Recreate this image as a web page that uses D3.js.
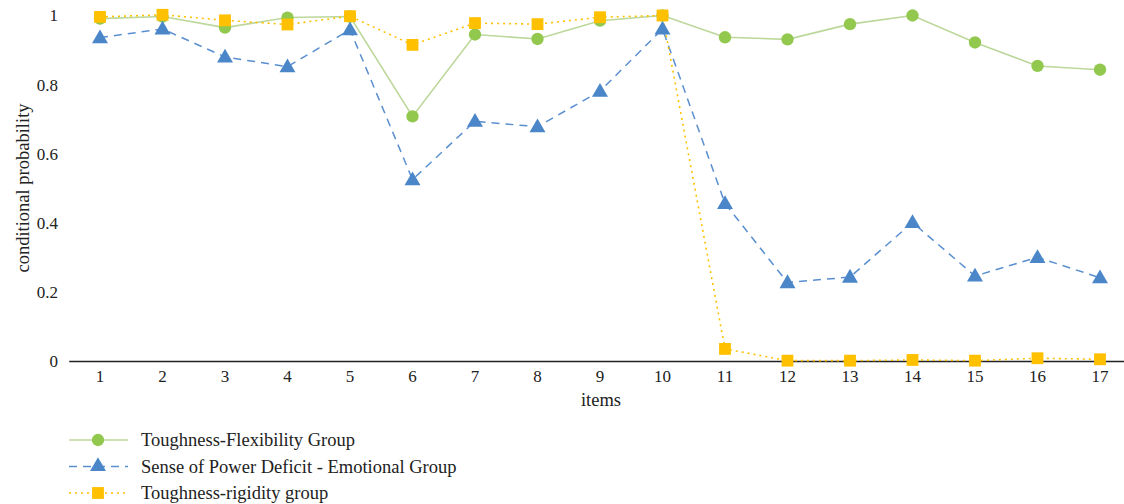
<!DOCTYPE html>
<html><head><meta charset="utf-8">
<script src="https://cdn.jsdelivr.net/npm/d3@7"></script>
<style>body{margin:0;background:#fff}svg{display:block}</style>
</head><body><svg id="c" width="1124" height="504" font-family="Liberation Serif"></svg>
<script>
const items = ["1","2","3","4","5","6","7","8","9","10","11","12","13","14","15","16","17"];
const flexibility = [0.991,0.997,0.965,0.994,0.997,0.708,0.945,0.932,0.985,1.0,0.937,0.931,0.975,1.0,0.922,0.854,0.843];
const powerDeficit = [0.936,0.961,0.880,0.852,0.959,0.525,0.694,0.678,0.781,0.961,0.456,0.227,0.243,0.401,0.246,0.300,0.241];
const rigidity = [0.996,1.002,0.986,0.974,0.998,0.915,0.978,0.975,0.995,1.0,0.035,0.001,0.001,0.003,0.001,0.008,0.005];
const yTicks = [0,0.2,0.4,0.6,0.8,1];
const seriesNames = ["Toughness-Flexibility Group","Sense of Power Deficit - Emotional Group","Toughness-rigidity group"];

const FONT = "Liberation Serif";
const svg = d3.select("#c");
const x = d3.scaleBand().domain(items).range([68.75,1131.25]);
const y = d3.scaleLinear().domain([0,1]).range([361,15.5]);
const cx = d => x(d) + x.bandwidth()/2;

const series = [
  {name:seriesNames[0], values:flexibility, line:"#bcd79a", lw:1.6, dash:null, marker:"circle", fill:"#92c84e"},
  {name:seriesNames[1], values:powerDeficit, line:"#5a8fcf", lw:1.5, dash:"8,6", marker:"triangle", fill:"#4a86c8"},
  {name:seriesNames[2], values:rigidity, line:"#ffc000", lw:1.6, dash:"2,4", marker:"square", fill:"#ffc000"}
];
const sym = {circle:d3.symbolCircle, triangle:d3.symbolTriangle, square:d3.symbolSquare};
const symSize = {circle:120, triangle:110, square:140};

// y axis labels
const yAxis = d3.axisLeft(y).tickValues(yTicks).tickFormat(d=>d===0?"0":d===1?"1":d3.format(".1f")(d)).tickSize(0).tickPadding(0);
const ga = svg.append("g").attr("transform","translate(58,0)").call(yAxis)
  .attr("font-family",FONT).attr("font-size",17);
ga.select(".domain").remove();
ga.selectAll("text").attr("fill","#222");

// x axis
const xAxis = d3.axisBottom(x).tickSize(0).tickPadding(9);
const gx = svg.append("g").attr("transform","translate(0,361)").call(xAxis)
  .attr("font-family",FONT).attr("font-size",17);
gx.select(".domain").attr("stroke","#222").attr("stroke-width",1.5);
gx.selectAll("text").attr("fill","#222");

svg.append("text").attr("x",601).attr("y",406).attr("text-anchor","middle")
  .attr("font-family",FONT).attr("font-size",18.5).attr("fill","#222").text("items");
svg.append("text").attr("transform","translate(29,188) rotate(-90)").attr("text-anchor","middle")
  .attr("font-family",FONT).attr("font-size",18.5).attr("fill","#222").text("conditional probability");

series.forEach(s=>{
  const line = d3.line().x((d,i)=>cx(items[i])).y(d=>y(d));
  svg.append("path").datum(s.values).attr("d",line).attr("fill","none")
    .attr("stroke",s.line).attr("stroke-width",s.lw).attr("stroke-dasharray",s.dash);
});
series.forEach(s=>{
  svg.append("g").selectAll("path").data(s.values).join("path")
    .attr("d",d3.symbol().type(sym[s.marker]).size(symSize[s.marker]))
    .attr("transform",(d,i)=>`translate(${cx(items[i])},${y(d) + (s.marker==="triangle"?1:0)})`)
    .attr("fill",s.fill);
});

// legend
const lg = svg.append("g");
series.forEach((s,i)=>{
  const yy = 440 + i*26.5;
  lg.append("line").attr("x1",69).attr("x2",128).attr("y1",yy).attr("y2",yy)
    .attr("stroke",s.line).attr("stroke-width",s.lw).attr("stroke-dasharray",s.dash);
  lg.append("path").attr("d",d3.symbol().type(sym[s.marker]).size(symSize[s.marker]))
    .attr("transform",`translate(98,${yy})`).attr("fill",s.fill);
  lg.append("text").attr("x",141).attr("y",yy+6).attr("font-family",FONT).attr("font-size",18.5)
    .attr("fill","#222").text(s.name);
});
</script></body></html>
